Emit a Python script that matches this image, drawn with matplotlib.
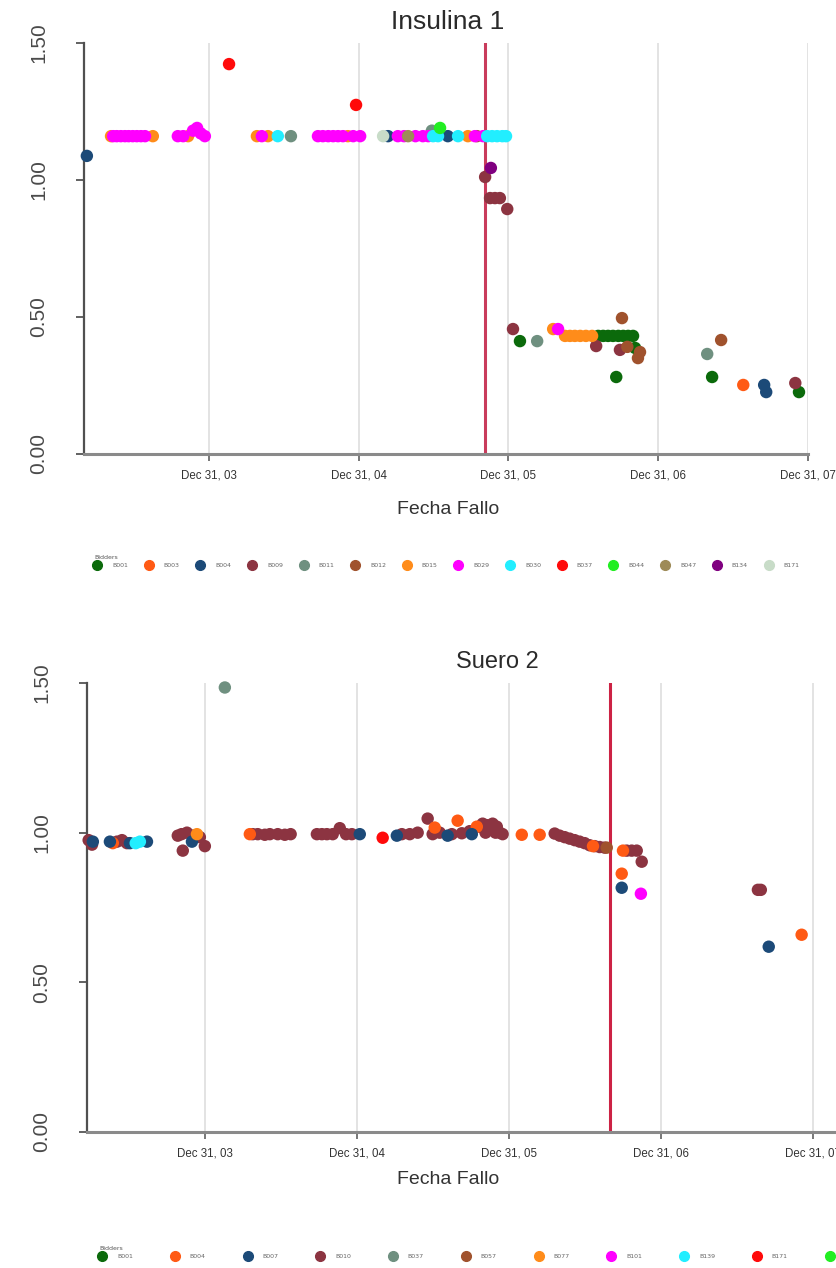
import matplotlib
matplotlib.use('Agg')
import matplotlib.pyplot as plt
import matplotlib.dates as mdates
import matplotlib.ticker as mticker
import pandas as pd
from matplotlib.lines import Line2D

# ---------------- data ----------------
palette = ['#0b6a0b', '#ff5a14', '#1c4a78', '#8c3441', '#6f9080', '#a0522d', '#ff8c1a',
           '#ff00ff', '#22eeff', '#ff0a0a', '#22ee22', '#9e8b58', '#800080', '#c8dcc8']

ins_bidders = ['B001', 'B003', 'B004', 'B009', 'B011', 'B012', 'B015', 'B029', 'B030',
               'B037', 'B044', 'B047', 'B134', 'B171']
sue_bidders = ['B001', 'B004', 'B007', 'B010', 'B037', 'B057', 'B077', 'B101', 'B139',
               'B171', 'B185']

ins_bidder = (
    ['B004'] * 5 + ['B015'] * 14 + ['B029'] * 32 + ['B030'] * 9 + ['B011'] * 4 + ['B037'] * 2
    + ['B171'] + ['B047'] + ['B012'] * 6 + ['B044'] + ['B001'] * 13 + ['B009'] * 9 + ['B134'] + ['B003']
)
ins_date = [
    # B004
    '2003-03-08', '2005-03-12', '2005-08-05', '2007-09-16', '2007-09-21',
    # B015
    '2003-05-06', '2003-08-16', '2003-11-10', '2004-04-26', '2004-05-23', '2004-12-04', '2005-09-23',
    '2006-04-19', '2006-05-18', '2006-05-30', '2006-06-11', '2006-06-24', '2006-07-08', '2006-07-23',
    # B029
    '2003-05-11', '2003-05-20', '2003-05-30', '2003-06-09', '2003-06-18', '2003-06-28', '2003-07-08',
    '2003-07-18', '2003-07-28', '2003-10-16', '2003-10-29', '2003-11-22', '2003-12-02', '2003-12-11',
    '2003-12-21', '2004-05-08', '2004-09-22', '2004-10-04', '2004-10-17', '2004-10-29', '2004-11-10',
    '2004-11-22', '2004-12-17', '2005-01-03', '2005-04-05', '2005-04-20', '2005-05-18', '2005-06-05',
    '2005-06-18', '2005-10-10', '2005-10-30', '2006-05-01',
    # B030
    '2004-06-16', '2005-06-30', '2005-07-12', '2005-08-30', '2005-11-09', '2005-11-21', '2005-12-03',
    '2005-12-16', '2005-12-25',
    # B011
    '2004-07-18', '2005-06-27', '2006-03-11', '2007-04-30',
    # B037
    '2004-02-18', '2004-12-24',
    # B171, B047
    '2005-02-28', '2005-04-30',
    # B012
    '2005-10-15', '2006-10-04', '2006-10-17', '2006-11-12', '2006-11-17', '2007-06-03',
    # B044
    '2005-07-17',
    # B001
    '2006-01-28', '2006-08-07', '2006-08-19', '2006-08-31', '2006-09-12', '2006-09-25', '2006-10-07',
    '2006-10-19', '2006-10-31', '2006-09-20', '2006-11-05', '2007-05-12', '2007-12-10',
    # B009
    '2005-11-04', '2005-11-16', '2005-11-28', '2005-12-10', '2005-12-28', '2006-01-11', '2006-08-02',
    '2006-09-29', '2007-12-01',
    # B134, B003
    '2005-11-18', '2007-07-27',
]
ins_value = [
    1.088, 1.16, 1.16, 0.252, 0.226,
    1.16, 1.16, 1.16, 1.16, 1.16, 1.16, 1.16,
    0.456, 0.431, 0.431, 0.431, 0.431, 0.431, 0.431,
    1.16, 1.16, 1.16, 1.16, 1.16, 1.16, 1.16,
    1.16, 1.16, 1.16, 1.16, 1.18, 1.19, 1.17,
    1.16, 1.16, 1.16, 1.16, 1.16, 1.16, 1.16,
    1.16, 1.16, 1.16, 1.16, 1.16, 1.16, 1.16,
    1.16, 1.16, 1.16, 0.456,
    1.16, 1.16, 1.16, 1.16, 1.16, 1.16, 1.16,
    1.16, 1.16,
    1.16, 1.18, 0.412, 0.365,
    1.423, 1.274,
    1.16, 1.16,
    1.16, 0.496, 0.391, 0.350, 0.372, 0.416,
    1.19,
    0.412, 0.431, 0.431, 0.431, 0.431, 0.431, 0.431,
    0.431, 0.431, 0.281, 0.387, 0.281, 0.226,
    1.011, 0.934, 0.934, 0.934, 0.894, 0.456, 0.394,
    0.380, 0.259,
    1.044, 0.252,
]

sue_bidder = (
    ['B037'] + ['B010'] * 62 + ['B007'] * 11 + ['B004'] * 11 + ['B139'] * 2
    + ['B077'] + ['B171'] + ['B057'] + ['B101']
)
sue_date = [
    '2004-02-17',
    # B010
    '2003-03-27', '2003-04-04', '2003-06-03', '2003-06-15', '2003-06-27',
    '2003-10-27', '2003-11-05', '2003-11-08', '2003-11-18', '2003-12-02', '2003-12-19', '2003-12-31',
    '2004-04-24', '2004-05-06', '2004-05-23', '2004-06-04', '2004-06-23', '2004-07-10', '2004-07-24',
    '2004-09-25', '2004-10-07', '2004-10-19', '2004-11-02', '2004-11-19', '2004-12-04', '2004-12-18',
    '2005-04-17', '2005-05-06', '2005-05-25', '2005-06-18', '2005-06-30', '2005-07-17', '2005-08-15',
    '2005-09-08', '2005-09-27', '2005-10-21', '2005-10-28', '2005-11-04', '2005-11-07', '2005-11-14',
    '2005-11-21', '2005-11-28', '2005-12-01', '2005-12-08', '2005-12-15',
    '2006-04-19', '2006-05-01', '2006-05-13', '2006-05-25', '2006-06-06', '2006-06-18', '2006-06-30',
    '2006-07-12', '2006-07-24', '2006-08-05', '2006-08-17',
    '2006-10-09', '2006-10-21', '2006-11-02', '2006-11-14', '2007-08-20', '2007-08-27',
    # B007
    '2003-04-06', '2003-05-17', '2003-07-04', '2003-08-14', '2003-11-30', '2005-01-06', '2005-04-05',
    '2005-08-05', '2005-10-02', '2006-09-27', '2007-09-15',
    # B004
    '2003-05-24', '2004-04-17', '2005-07-05', '2005-08-29', '2005-10-14', '2006-01-30', '2006-03-14',
    '2006-07-20', '2006-09-30', '2006-09-27', '2007-12-03',
    # B139
    '2003-07-18', '2003-07-28',
    # B077, B171, B057, B101
    '2003-12-12', '2005-03-02', '2006-08-22', '2006-11-12',
]
sue_value = [
    1.485,
    0.975, 0.96, 0.97, 0.975, 0.965,
    0.99, 0.995, 0.94, 1.0, 0.99, 0.985, 0.955,
    0.995, 0.995, 0.993, 0.995, 0.995, 0.993, 0.995,
    0.995, 0.995, 0.995, 0.995, 1.015, 0.995, 0.995,
    0.995, 0.995, 1.0, 1.047, 0.995, 1.0, 0.995,
    0.998, 1.005, 1.02, 1.03, 1.0, 1.025, 1.01,
    1.03, 1.0, 1.02, 1.0, 0.995,
    0.997, 0.99, 0.985, 0.98, 0.975, 0.97, 0.965,
    0.958, 0.955, 0.952, 0.95,
    0.94, 0.94, 0.94, 0.903, 0.809, 0.809,
    0.97, 0.97, 0.965, 0.97, 0.97, 0.995, 0.99,
    0.99, 0.995, 0.816, 0.619,
    0.965, 0.995, 1.017, 1.04, 1.02, 0.993, 0.993,
    0.955, 0.94, 0.863, 0.659,
    0.965, 0.97,
    0.995, 0.983, 0.95, 0.796,
]

ins_event = '2005-11-04'
sue_event = '2006-08-29'
year_ticks = ['2003-12-31', '2004-12-31', '2005-12-31', '2006-12-31', '2007-12-31']
y_ticks = [0.0, 0.5, 1.0, 1.5]

# ---------------- figure ----------------
W, H = 836, 1268
fig = plt.figure(figsize=(W / 100, H / 100), dpi=100)


def box(l, t, r, b):
    return [l / W, 1 - b / H, (r - l) / W, (b - t) / H]


SANS = ['Liberation Sans', 'DejaVu Sans']


def style_axes(ax, xlim, event, event_color):
    ax.set_xlim(pd.to_datetime(xlim[0]), pd.to_datetime(xlim[1]))
    ax.set_ylim(0, 1.5)
    ax.set_xticks(pd.to_datetime(year_ticks))
    ax.xaxis.set_major_formatter(mdates.DateFormatter('%b %d, %y'))
    ax.set_yticks(y_ticks)
    ax.yaxis.set_major_formatter(mticker.FormatStrFormatter('%.2f'))
    ax.grid(axis='x', color='#dedede', lw=1.2, zorder=0)
    ax.set_axisbelow(True)
    for s in ['top', 'right']:
        ax.spines[s].set_visible(False)
    ax.spines['left'].set_color('#505050')
    ax.spines['left'].set_linewidth(1.6)
    ax.spines['bottom'].set_color('#8a8a8a')
    ax.spines['bottom'].set_linewidth(2.2)
    ax.tick_params(axis='x', length=5, width=1.4, color='#777777', pad=6,
                   labelsize=8.3, labelcolor='#333333')
    ax.tick_params(axis='y', length=6, width=1.3, color='#555555', pad=20,
                   labelsize=15, labelcolor='#4a4a4a')
    for lab in ax.get_xticklabels():
        lab.set_family(SANS)
    for lab in ax.get_yticklabels():
        lab.set_family(SANS)
        lab.set_rotation(90)
        lab.set_va('center')
    ax.axvline(pd.to_datetime(event), color=event_color, lw=2.2, zorder=1)


def draw_points(ax, bidders, order, pt_bidder, pt_date, pt_value):
    df = pd.DataFrame({'bidder': pt_bidder, 'date': pd.to_datetime(pt_date), 'value': pt_value})
    for b in order:
        sub = df[df['bidder'] == b]
        if len(sub):
            ax.scatter(sub['date'], sub['value'], s=80, color=palette[bidders.index(b)],
                       edgecolors='none', zorder=3, clip_on=False)


def add_legend(bidders, x0, ytop, colspacing):
    handles = [Line2D([], [], marker='o', ls='', color=palette[i], markersize=7)
               for i in range(len(bidders))]
    leg = fig.legend(handles, bidders, loc='upper left',
                     bbox_to_anchor=(x0 / W, 1 - ytop / H), ncol=len(bidders),
                     frameon=False, fontsize=4.5, title='Bidders', title_fontsize=4.5,
                     handlelength=1.0, handletextpad=1.9, columnspacing=colspacing,
                     borderpad=0, borderaxespad=0, alignment='left', labelcolor='#666666')
    leg.get_title().set_color('#555555')
    return leg


# ---- top chart: Insulina 1 ----
ax1 = fig.add_axes(box(84, 43, 808, 454))
style_axes(ax1, ('2003-03-01', '2008-01-01'), ins_event, '#c93c5c')
draw_points(ax1, ins_bidders, ins_bidders, ins_bidder, ins_date, ins_value)
fig.text(448 / W, 1 - 22 / H, 'Insulina 1', ha='center', va='center', fontsize=19,
         family=SANS, color='#2a2a2a')
fig.text(448 / W, 1 - 510 / H, 'Fecha Fallo', ha='center', va='center', fontsize=14,
         family=SANS, color='#333333')
add_legend(ins_bidders, 94, 555, 2.8)

# ---- bottom chart: Suero 2 ----
ax2 = fig.add_axes(box(87, 683, 907, 1132))
style_axes(ax2, ('2003-03-23', '2008-08-12'), sue_event, '#cc2244')
sue_order = ['B010'] + [b for b in sue_bidders if b != 'B010']
draw_points(ax2, sue_bidders, sue_order, sue_bidder, sue_date, sue_value)
fig.text(497 / W, 1 - 662 / H, 'Suero 2', ha='center', va='center', fontsize=17,
         family=SANS, color='#2a2a2a')
fig.text(448 / W, 1 - 1180 / H, 'Fecha Fallo', ha='center', va='center', fontsize=14,
         family=SANS, color='#333333')
add_legend(sue_bidders, 99, 1246, 6.18)

fig.savefig('out.png', dpi=100)
